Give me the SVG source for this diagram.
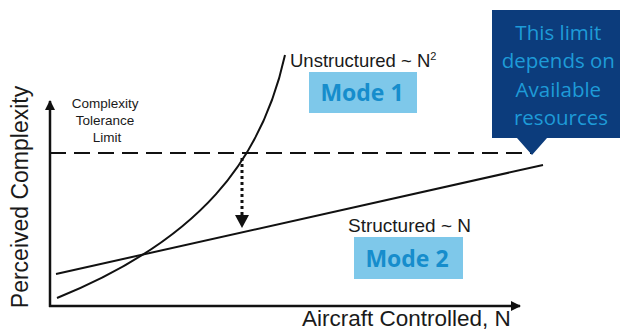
<svg xmlns="http://www.w3.org/2000/svg" width="620" height="331" viewBox="0 0 620 331">
  <style>
    .ax { fill: none; stroke: #111; stroke-width: 2.5; }
    .crv { fill: none; stroke: #111; stroke-width: 2; }
    .lbl { font-family: "Liberation Sans", Arial, sans-serif; fill: #1a1a1a; }
    .mode { fill: #7ec8ea; }
    .modet { font-family: "Open Sans", "Liberation Sans", sans-serif; font-weight: bold; font-size: 23px; fill: #168dcc; text-anchor: middle; }
    .call { font-family: "Open Sans", "Liberation Sans", sans-serif; font-size: 20.5px; fill: #1e9bd8; text-anchor: middle; }
  </style>
  <defs>
    <marker id="ah" viewBox="0 0 10 10" refX="9" refY="5" markerWidth="4" markerHeight="4" orient="auto" markerUnits="strokeWidth">
      <path d="M0,0 L10,5 L0,10 z" fill="#111"/>
    </marker>
  </defs>
  <rect width="620" height="331" fill="#fff"/>

  <!-- axes -->
  <g id="axes">
    <path class="ax" d="M50,307 L50,101" marker-end="url(#ah)"/>
    <path class="ax" d="M49,306 L520,306" marker-end="url(#ah)"/>
    <text class="lbl" font-size="23" text-anchor="middle" transform="translate(28,197) rotate(-90)">Perceived Complexity</text>
    <text class="lbl" font-size="22.5" x="302" y="326">Aircraft Controlled, N</text>
  </g>

  <!-- tolerance limit -->
  <g id="limit">
    <line x1="50" y1="153" x2="532" y2="153" stroke="#111" stroke-width="2" stroke-dasharray="16 8"/>
    <text class="lbl" font-size="13.5" text-anchor="middle">
      <tspan x="107" y="108">Complexity</tspan>
      <tspan x="107" y="125">Tolerance</tspan>
      <tspan x="107" y="142">Limit</tspan>
    </text>
  </g>

  <!-- connectors: growth curves and the dotted drop -->
  <g id="connectors">
    <path id="unstructured" class="crv" d="M57,298 C200,240 262,160 285,55"/>
    <path id="structured" class="crv" d="M56,274 L543,165"/>
    <line x1="242" y1="158" x2="242" y2="215" stroke="#111" stroke-width="3" stroke-dasharray="3 3"/>
    <path d="M235,215 L249,215 L242,228 z" fill="#111"/>
  </g>

  <g id="unstructured-label">
    <text class="lbl" font-size="18.5" x="290" y="67">Unstructured ~ N<tspan font-size="11" dy="-7">2</tspan></text>
  </g>
  <g id="structured-label">
    <text class="lbl" font-size="19" x="348" y="232">Structured ~ N</text>
  </g>

  <g id="mode1">
    <rect class="mode" x="309" y="72" width="108" height="41"/>
    <text class="modet" x="362" y="101">Mode 1</text>
  </g>
  <g id="mode2">
    <rect class="mode" x="354" y="237" width="109" height="42"/>
    <text class="modet" x="407" y="267">Mode 2</text>
  </g>

  <!-- callout -->
  <g id="callout">
    <path d="M492,10 L620,10 L620,138 L547,138 L532,155 L517,138 L492,138 z" fill="#0c3c7c"/>
    <text class="call">
      <tspan x="561" y="40">This limit</tspan>
      <tspan x="561" y="68">depends on</tspan>
      <tspan x="561" y="97">Available</tspan>
      <tspan x="561" y="125">resources</tspan>
    </text>
  </g>
</svg>
